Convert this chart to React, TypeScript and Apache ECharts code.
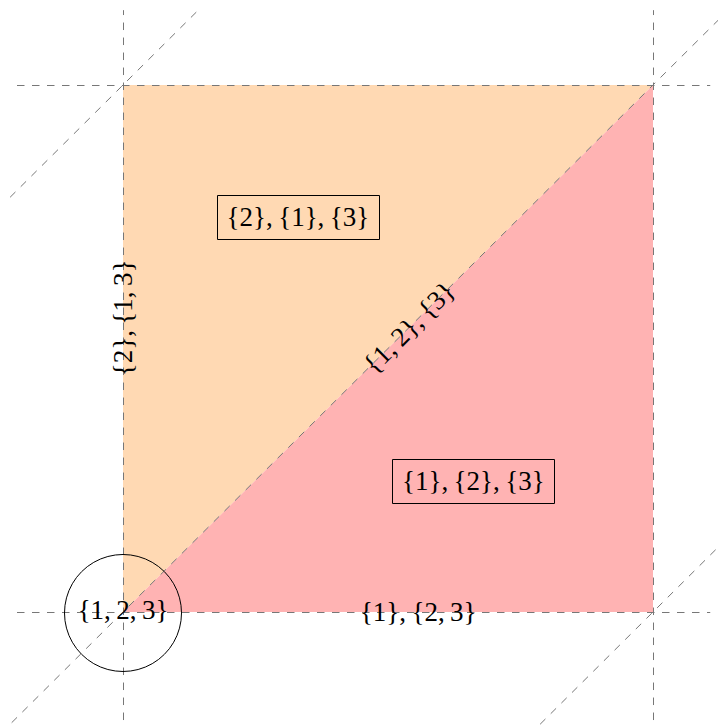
import React, { useEffect, useRef } from "react";
import * as echarts from "echarts";

// Regions of the unit square (data coordinates)
const regionPolygons: number[][][] = [
  [[0, 0], [0, 1], [1, 1]],
  [[0, 0], [1, 0], [1, 1]],
];
const regionColors = ["#FFD9B3", "#FFB3B3"];

// Dashed guide lines (endpoints in data coordinates)
const dashedLines: number[][][] = [
  [[0, -0.205], [0, 1.142]],
  [[1, -0.205], [1, 1.142]],
  [[-0.2, 0], [1.108, 0]],
  [[-0.2, 1], [1.108, 1]],
  [[-0.213, 0.787], [0.145, 1.145]],
  [[-0.21, -0.21], [1.123, 1.123]],
  [[0.787, -0.213], [1.123, 0.123]],
];

// Boxed labels
const boxLabels = ["{2},\u2009{1},\u2009{3}", "{1},\u2009{2},\u2009{3}"];
const boxPositions: number[][] = [[0.33, 0.75], [0.661, 0.249]];

// Plain labels
const plainLabels = [
  "{1,\u20092},\u2009{3}",
  "{2},\u2009{1,\u20093}",
  "{1},\u2009{2,\u20093}",
  "{1,\u20092,\u20093}",
];
const plainPositions: number[][] = [[0.54, 0.54], [0, 0.558], [0.557, 0], [0, 0.003]];
const plainAngles = [45, 90, 0, 0];

// Circled point
const circlePoints: number[][] = [[0, 0]];

const FONT = "27px 'Liberation Serif', 'Times New Roman', serif";

export default function App() {
  const ref = useRef<HTMLDivElement>(null);
  useEffect(() => {
    if (!ref.current) return;
    const chart = echarts.init(ref.current, undefined, { renderer: "svg" });
    const idx = (arr: any[]) => arr.map((_, i) => [i]);
    const option: any = {
      animation: false,
      grid: { left: 0, right: 0, top: 0, bottom: 0, containLabel: false },
      xAxis: {
        type: "value",
        min: -123 / 530,
        max: 595 / 530,
        show: false,
        splitLine: { show: false },
      },
      yAxis: {
        type: "value",
        min: -113 / 527,
        max: 1 + 85 / 527,
        show: false,
        splitLine: { show: false },
      },
      series: [
        {
          type: "custom",
          silent: true,
          clip: false,
          z: 1,
          data: idx(regionPolygons),
          renderItem: (params: any, api: any) => {
            const poly = regionPolygons[params.dataIndex];
            return {
              type: "polygon",
              shape: { points: poly.map((p) => api.coord(p)) },
              style: { fill: regionColors[params.dataIndex], stroke: "none" },
            };
          },
        },
        {
          type: "custom",
          silent: true,
          clip: false,
          z: 2,
          data: idx(dashedLines),
          renderItem: (params: any, api: any) => {
            const l = dashedLines[params.dataIndex];
            const a = api.coord(l[0]);
            const b = api.coord(l[1]);
            const snap = (v: number) => Math.round(v) + 0.5;
            const vertical = Math.abs(a[0] - b[0]) < 0.5;
            const horizontal = Math.abs(a[1] - b[1]) < 0.5;
            const x1 = vertical ? snap(a[0]) : a[0];
            const x2 = vertical ? snap(b[0]) : b[0];
            const y1 = horizontal ? snap(a[1]) : a[1];
            const y2 = horizontal ? snap(b[1]) : b[1];
            return {
              type: "line",
              shape: { x1, y1, x2, y2 },
              style: {
                stroke: "#777777",
                lineWidth: 1,
                lineDash: [7.5, 7.5],
                fill: "none",
              },
            };
          },
        },
        {
          type: "custom",
          silent: true,
          clip: false,
          z: 3,
          data: idx(boxLabels),
          renderItem: (params: any, api: any) => {
            const c = api.coord(boxPositions[params.dataIndex]);
            const rx = Math.round(c[0] - 81) + 0.5;
            const ry = Math.round(c[1] - 22) + 0.5;
            return {
              type: "group",
              children: [
                {
                  type: "rect",
                  shape: { x: rx, y: ry, width: 162, height: 44 },
                  style: { fill: "none", stroke: "#000", lineWidth: 1 },
                },
                {
                  type: "text",
                  x: c[0],
                  y: c[1],
                  style: {
                    text: boxLabels[params.dataIndex],
                    font: FONT,
                    fill: "#000",
                    align: "center",
                    verticalAlign: "middle",
                  },
                },
              ],
            };
          },
        },
        {
          type: "custom",
          silent: true,
          clip: false,
          z: 3,
          data: idx(circlePoints),
          renderItem: (params: any, api: any) => {
            const c = api.coord(circlePoints[params.dataIndex]);
            return {
              type: "circle",
              shape: { cx: c[0], cy: c[1] + 1, r: 58.5 },
              style: { fill: "none", stroke: "#000", lineWidth: 1 },
            };
          },
        },
        {
          type: "custom",
          silent: true,
          clip: false,
          z: 4,
          data: idx(plainLabels),
          renderItem: (params: any, api: any) => {
            const c = api.coord(plainPositions[params.dataIndex]);
            return {
              type: "text",
              x: c[0],
              y: c[1],
              rotation: (plainAngles[params.dataIndex] * Math.PI) / 180,
              style: {
                text: plainLabels[params.dataIndex],
                font: FONT,
                fill: "#000",
                align: "center",
                verticalAlign: "middle",
              },
            };
          },
        },
      ],
    };
    chart.setOption(option);
    return () => chart.dispose();
  }, []);
  return (
    <div
      ref={ref}
      style={{ position: "absolute", left: 0, top: 0, width: 718, height: 725, background: "#fff" }}
    />
  );
}
